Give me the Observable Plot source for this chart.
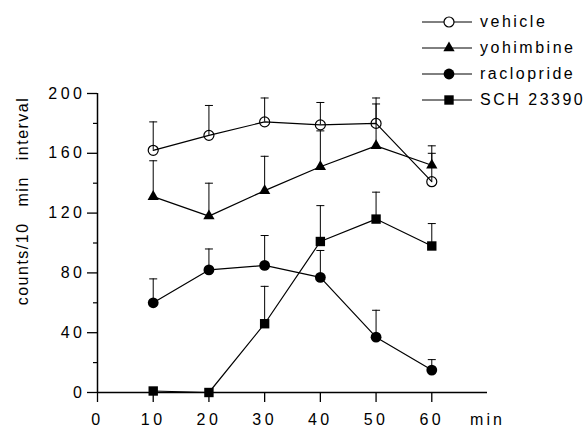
<!DOCTYPE html>
<html><head><meta charset="utf-8">
<script src="https://cdn.jsdelivr.net/npm/d3@7"></script>
<script src="https://cdn.jsdelivr.net/npm/@observablehq/plot@0.6"></script>
<style>
body{margin:0;background:#fff;}
#wrap{position:relative;width:588px;height:430px;font-family:"Liberation Sans",Arial,sans-serif;color:#000;}
#legend{position:absolute;left:420px;top:9px;}
.row{display:flex;align-items:center;height:26px;font-size:16px;letter-spacing:2.5px;}
.row svg{display:block;}
</style></head>
<body><div id="wrap"><div id="legend"></div></div>
<script>
// ---- data ----
const minutes = [10, 20, 30, 40, 50, 60];
const seriesNames = ["vehicle", "yohimbine", "raclopride", "SCH 23390"];
const vehicle = [162, 172, 181, 179, 180, 141];
const vehicleSem = [19, 20, 16, 15, 17, 19];
const yohimbine = [131, 118, 135, 151, 165, 152];
const yohimbineSem = [24, 22, 23, 24, 28, 13];
const raclopride = [60, 82, 85, 77, 37, 15];
const racloprideSem = [16, 14, 20, 18, 18, 7];
const sch23390 = [1, 0, 46, 101, 116, 98];
const sch23390Sem = [0, 0, 25, 24, 18, 15];
const xTicks = [0, 10, 20, 30, 40, 50, 60];
const yTicks = [0, 40, 80, 120, 160, 200];
const yMinorTicks = [20, 60, 100, 140, 180];
const yLabel = "counts/10 min interval";
const xUnit = "min";

// ---- table ----
const seriesValues = [vehicle, yohimbine, raclopride, sch23390];
const seriesSems = [vehicleSem, yohimbineSem, racloprideSem, sch23390Sem];
const rows = [];
seriesNames.forEach((name, i) => minutes.forEach((m, j) =>
  rows.push({series: name, minute: m, value: seriesValues[i][j], sem: seriesSems[i][j]})));
const errRows = rows.filter(d => d.sem > 0);

// ---- styles ----
const styles = {
  "vehicle": {symbol: "circle", fill: "none", stroke: "black", r: 5},
  "yohimbine": {symbol: "triangle", fill: "black", stroke: "none", r: 4.2},
  "raclopride": {symbol: "circle", fill: "black", stroke: "none", r: 5.4},
  "SCH 23390": {symbol: "square", fill: "black", stroke: "none", r: 5.3}
};
const capSymbol = {draw(ctx, size) { const w = Math.sqrt(size / Math.PI); ctx.moveTo(-w, 0); ctx.lineTo(w, 0); }};

const chart = Plot.plot({
  width: 588, height: 430,
  marginLeft: 97, marginRight: 101, marginTop: 93, marginBottom: 38,
  style: {fontFamily: "'Liberation Sans', Arial, sans-serif", fontSize: "16px", background: "white", color: "black"},
  x: {domain: [0, 70]},
  y: {domain: [0, 200]},
  marks: [
    Plot.axisY({ticks: yTicks, tickSize: 10, tickPadding: 2, label: null, strokeWidth: 1.3, fontSize: 16}),
    Plot.axisY({ticks: yMinorTicks, tickSize: 4, tickFormat: () => "", label: null, strokeWidth: 1.2}),
    Plot.axisX({ticks: xTicks, tickSize: 10, tickPadding: 11, label: null, strokeWidth: 1.3, fontSize: 16}),
    Plot.ruleX([0], {strokeWidth: 1.5}),
    Plot.ruleY([0], {strokeWidth: 1.5}),
    Plot.ruleX(errRows, {x: "minute", y1: "value", y2: d => d.value + d.sem, stroke: "black", strokeWidth: 1}),
    Plot.dot(errRows, {x: "minute", y: d => d.value + d.sem, symbol: capSymbol, r: 4, stroke: "black", fill: "none", strokeWidth: 1}),
    Plot.line(rows, {x: "minute", y: "value", z: "series", stroke: "black", strokeWidth: 1.2}),
    ...seriesNames.map(name => Plot.dot(rows.filter(d => d.series === name), {
      x: "minute", y: "value", symbol: styles[name].symbol, r: styles[name].r,
      fill: styles[name].fill, stroke: styles[name].stroke, strokeWidth: 1.2
    })),
    Plot.text([yLabel], {frameAnchor: "left", textAnchor: "middle", rotate: -90, dx: -75, dy: -42, fontSize: 16}),
    Plot.text([xUnit], {frameAnchor: "bottom-right", textAnchor: "middle", lineAnchor: "top", dy: 21, fontSize: 16})
  ]
});
const svgSel = d3.select(chart);
svgSel.selectAll('[aria-label$="tick label"] text').style("letter-spacing", "3.5px");
svgSel.selectAll("text").filter(function() { return this.textContent === xUnit; }).style("letter-spacing", "3px");
svgSel.selectAll("text").filter(function() { return this.textContent === yLabel; })
  .style("letter-spacing", "1.5px").style("word-spacing", "10px");
document.getElementById("wrap").prepend(chart);

// ---- legend ----
const symMap = {circle: d3.symbolCircle, triangle: d3.symbolTriangle, square: d3.symbolSquare};
const legend = d3.select("#legend");
seriesNames.forEach(name => {
  const st = styles[name];
  const row = legend.append("div").attr("class", "row");
  const svg = row.append("svg").attr("width", 60).attr("height", 26);
  svg.append("line").attr("x1", 2).attr("x2", 52).attr("y1", 13).attr("y2", 13).attr("stroke", "black").attr("stroke-width", 1);
  svg.append("path").attr("transform", "translate(29,13)")
    .attr("d", d3.symbol(symMap[st.symbol], Math.PI * st.r * st.r)())
    .attr("fill", st.fill === "none" ? "white" : st.fill).attr("stroke", st.stroke).attr("stroke-width", 1.2);
  row.append("span").text(name);
});
</script>
</body></html>
